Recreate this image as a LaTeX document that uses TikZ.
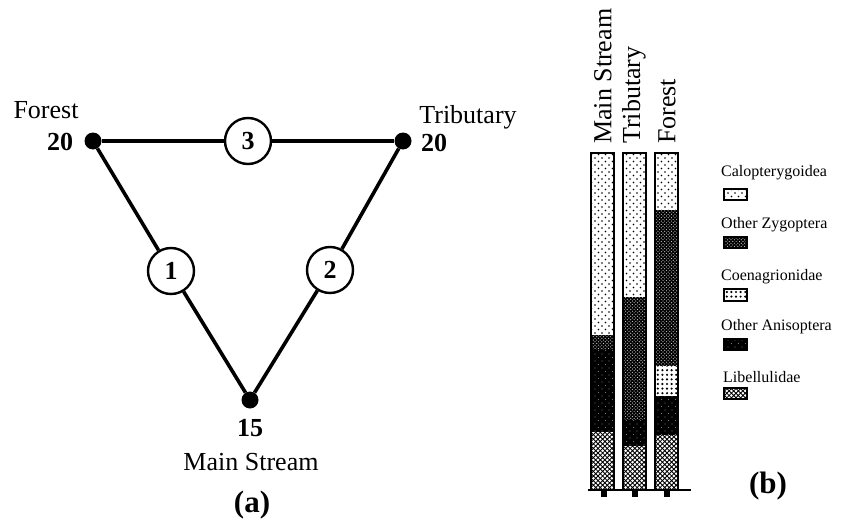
\documentclass[tikz,border=0pt]{standalone}
\usepackage{fontspec}
\setmainfont{Liberation Serif}
\usetikzlibrary{patterns}
\pgfdeclarepatternformonly{sparsedots}{\pgfqpoint{-1.5pt}{-1.5pt}}{\pgfqpoint{5pt}{5pt}}{\pgfqpoint{7pt}{7pt}}{%
  \pgfpathcircle{\pgfqpoint{0pt}{0pt}}{0.9pt}%
  \pgfpathcircle{\pgfqpoint{3.5pt}{3.5pt}}{0.9pt}%
  \pgfusepath{fill}}
\pgfdeclarepatternformonly{finedots}{\pgfqpoint{-1pt}{-1pt}}{\pgfqpoint{3pt}{3pt}}{\pgfqpoint{3.4pt}{3.4pt}}{%
  \pgfpathcircle{\pgfqpoint{0pt}{0pt}}{0.6pt}%
  \pgfpathcircle{\pgfqpoint{1.7pt}{1.7pt}}{0.6pt}%
  \pgfusepath{fill}}
\pgfdeclarepatternformonly{bigdots}{\pgfqpoint{-1.3pt}{-1.3pt}}{\pgfqpoint{1.3pt}{1.3pt}}{\pgfqpoint{4.6pt}{4.6pt}}{%
  \pgfpathcircle{\pgfqpoint{0pt}{0pt}}{1.2pt}%
  \pgfusepath{fill}}
\pgfdeclarepatternformonly{graydots}{\pgfqpoint{-1pt}{-1pt}}{\pgfqpoint{4pt}{4pt}}{\pgfqpoint{7pt}{7pt}}{%
  \pgfpathcircle{\pgfqpoint{0pt}{0pt}}{0.6pt}%
  \pgfpathcircle{\pgfqpoint{3.5pt}{3.5pt}}{0.6pt}%
  \pgfusepath{fill}}
\pgfdeclarepatternformonly{xhatch}{\pgfqpoint{-1pt}{-1pt}}{\pgfqpoint{6pt}{6pt}}{\pgfqpoint{4.6pt}{4.6pt}}{%
  \pgfsetlinewidth{0.85pt}%
  \pgfpathmoveto{\pgfqpoint{-0.2pt}{-0.2pt}}\pgfpathlineto{\pgfqpoint{4.8pt}{4.8pt}}%
  \pgfpathmoveto{\pgfqpoint{-0.2pt}{4.8pt}}\pgfpathlineto{\pgfqpoint{4.8pt}{-0.2pt}}%
  \pgfusepath{stroke}}
\tikzset{
  dotnode/.style={circle,fill=black,minimum size=17pt,inner sep=0pt},
  numnode/.style={circle,draw=black,line width=2.4pt,fill=white,minimum size=46pt,inner sep=0pt,
    font=\fontsize{26}{28}\selectfont\bfseries},
  conn/.style={line width=3.6pt},
  lbl/.style={font=\fontsize{26}{28}\selectfont,inner sep=0pt},
  blbl/.style={font=\fontsize{26}{28}\selectfont\bfseries,inner sep=0pt},
  captxt/.style={font=\fontsize{31}{33}\selectfont\bfseries,inner sep=0pt},
  leg/.style={font=\fontsize{16}{18}\selectfont,inner sep=0pt,anchor=west},
  calop/.style={fill=white,postaction={pattern=sparsedots,pattern color=black}},
  ozyg/.style={fill=black,postaction={pattern=finedots,pattern color=white!80!black}},
  coen/.style={fill=white,postaction={pattern=bigdots,pattern color=black}},
  oanis/.style={fill=black,postaction={pattern=graydots,pattern color=black!55}},
  libel/.style={fill=white,postaction={pattern=xhatch,pattern color=black}},
  barout/.style={draw=black,line width=1.8pt},
}
\begin{document}
\begin{tikzpicture}[x=1pt,y=-1pt]
\useasboundingbox[fill=white] (0,0) rectangle (844,522);
% ---------- (a) triangle ----------
\node[dotnode] (forest) at (93,141) {};
\node[dotnode] (trib) at (403,141) {};
\node[dotnode] (main) at (250,400) {};
\node[numnode] (c3) at (248,141) {3};
\node[numnode] (c1) at (171,271) {1};
\node[numnode] (c2) at (330,270) {2};
\draw[conn] (forest) -- (c3);
\draw[conn] (c3) -- (trib);
\draw[conn] (forest) -- (c1);
\draw[conn] (c1) -- (main);
\draw[conn] (trib) -- (c2);
\draw[conn] (c2) -- (main);
\node[lbl] (tforest) at (46,110) {Forest};
\node[blbl] (nforest) at (60,142) {20};
\node[lbl] (ttrib) at (468,117) {Tributary};
\node[blbl] (ntrib) at (434,143) {20};
\node[blbl] (nmain) at (250,428) {15};
\node[lbl] (tmain) at (251,462) {Main Stream};
\node[captxt] (capa) at (252,505) {(a)};
% ---------- (b) bars ----------
% Main Stream bar
\path[calop] (591,153) rectangle (614,335);
\path[ozyg]  (591,335) rectangle (614,350);
\path[oanis] (591,350) rectangle (614,432);
\path[libel] (591,432) rectangle (614,490);
\draw[barout] (591,153) rectangle (614,490);
\draw[line width=2.8pt] (614,155) -- (614,490);
% Tributary bar
\path[calop] (623,153) rectangle (646,297);
\path[ozyg]  (623,297) rectangle (646,420);
\path[oanis] (623,420) rectangle (646,446);
\path[libel] (623,446) rectangle (646,490);
\draw[barout] (623,153) rectangle (646,490);
\draw[line width=2.8pt] (646,155) -- (646,490);
% Forest bar
\path[calop] (655,153) rectangle (678,210);
\path[ozyg]  (655,210) rectangle (678,366);
\path[coen]  (655,366) rectangle (678,396);
\path[oanis] (655,396) rectangle (678,435);
\path[libel] (655,435) rectangle (678,490);
\draw[barout] (655,153) rectangle (678,490);
\draw[line width=2.8pt] (678,155) -- (678,490);
% axis and ticks
\draw[line width=1.8pt] (588,490) -- (691,490);
\fill (600.5,490) rectangle (606.5,497);
\fill (632,490) rectangle (638,497);
\fill (663.5,490) rectangle (669.5,497);
% vertical labels
\node[lbl,rotate=90,anchor=west] (vmain) at (603,144) {Main Stream};
\node[lbl,rotate=90,anchor=west] (vtrib) at (634,144) {Tributary};
\node[lbl,rotate=90,anchor=west] (vforest) at (667,144) {Forest};
% legend
\node[leg] (l1) at (721,173) {Calopterygoidea};
\path[calop] (724,189) rectangle (747,200); \draw[line width=1.4pt] (724,189) rectangle (747,200);
\node[leg] (l2) at (721,225) {Other Zygoptera};
\path[ozyg] (724,237) rectangle (747,248); \draw[line width=1.4pt] (724,237) rectangle (747,248);
\node[leg] (l3) at (721,277) {Coenagrionidae};
\path[coen] (724,289) rectangle (747,301); \draw[line width=1.4pt] (724,289) rectangle (747,301);
\node[leg] (l4) at (721,327) {Other Anisoptera};
\path[oanis] (724,339) rectangle (747,350); \draw[line width=1.4pt] (724,339) rectangle (747,350);
\node[leg] (l5) at (723,377) {Libellulidae};
\path[libel] (724,388) rectangle (747,399); \draw[line width=1.4pt] (724,388) rectangle (747,399);
\node[captxt] (capb) at (768,486) {(b)};
\end{tikzpicture}
\end{document}
